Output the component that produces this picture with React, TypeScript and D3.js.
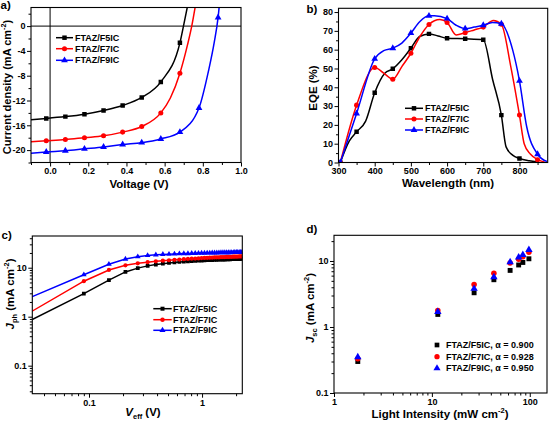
import * as d3 from "d3";
import { useEffect, useRef } from "react";

const FONT = "'Liberation Sans', Arial, sans-serif";
const COLORS = ["#000000", "#ff0000", "#0000ff"];
const SERIES = ["FTAZ/F5IC", "FTAZ/F7IC", "FTAZ/F9IC"];
const ALPHAS = ["0.900", "0.928", "0.950"];

// a) J-V curves, markers every 0.1 V
const jvVoltage = [-0.02, 0.08, 0.18, 0.28, 0.38, 0.48, 0.58, 0.68, 0.78, 0.88];
const jvF5 = [-14.9, -14.6, -14.2, -13.6, -12.8, -11.5, -9.0, -2.7];
const jvF7 = [-18.5, -18.3, -18.0, -17.7, -17.1, -16.2, -14.0, -7.6];
const jvF9 = [-20.3, -20.1, -19.8, -19.5, -19.1, -18.8, -18.2, -17.1, -13.2, 1.4];
// unmarked parts of the curves (left edge and the steep rise)
const jvF5Extra = [[-0.1, -15.1], [0.70, 0.2], [0.725, 4]];
const jvF7Extra = [[-0.1, -18.65], [0.63, -11.6], [0.72, -3], [0.742, 0], [0.765, 4]];
const jvF9Extra = [[-0.1, -20.5], [0.83, -7.2], [0.86, -2.6], [0.89, 4.5]];

// b) EQE spectra
const eqeWavelength = [305, 350, 400, 450, 500, 550, 600, 650, 700, 750, 800, 850];
const eqeF5 = [0, 16.3, 37.1, 49.8, 60.8, 68.4, 66.1, 65.8, 65.3, 25.2, 2.1];
const eqeF7 = [0, 30.5, 50.5, 44.3, 58.1, 73.4, 74.5, 69.0, 72.0, 73.5, 25.2, 1.5];
const eqeF9 = [0, 26.1, 55.1, 60.8, 68.8, 78.0, 76.5, 71.2, 73.0, 73.8, 43.4, 4.4];
const eqeF5Extra = [[330, 11.5], [375, 22], [428, 47.5], [475, 54.6], [524, 67], [575, 67.3], [726, 44], [763, 8.3], [781, 3.9], [827, 0.9], [850, 0.3]];
const eqeF7Extra = [[425, 47.5], [475, 51], [525, 67], [580, 76], [625, 67.8], [675, 70.5], [728, 75.5], [776, 51], [813, 10], [830, 4.5], [870, 0.2]];
const eqeF9Extra = [[425, 59.5], [475, 63.5], [525, 75], [565, 78], [625, 73], [675, 72], [725, 74.5], [781, 60], [820, 19], [876, 0.5]];

// c) Jph vs Veff
const veff = [0.03, 0.09, 0.15, 0.21, 0.27, 0.33, 0.39, 0.45, 0.51, 0.57, 0.63, 0.69, 0.75, 0.81, 0.87, 0.93, 0.99, 1.05, 1.11, 1.17,
  1.23, 1.29, 1.35, 1.41, 1.47, 1.53, 1.59, 1.65, 1.71, 1.77, 1.83, 1.89, 1.95, 2.01, 2.07, 2.13, 2.19, 2.25];
const jphF5 = [0.83, 2.95, 5.6, 8.2, 9.8, 10.9, 11.6, 12.1, 12.5, 12.8, 13.1, 13.3, 13.5, 13.6, 13.8, 13.9, 14.0, 14.1, 14.2, 14.3,
  14.35, 14.4, 14.5, 14.55, 14.6, 14.65, 14.7, 14.75, 14.8, 14.85, 14.9, 14.9, 14.95, 15.0, 15.0, 15.05, 15.1, 15.1];
const jphF7 = [1.22, 5.3, 9.0, 11.2, 12.3, 13.0, 13.5, 13.9, 14.2, 14.5, 14.7, 14.9, 15.1, 15.3, 15.4, 15.5, 15.7, 15.8, 15.9, 16.0,
  16.1, 16.2, 16.3, 16.3, 16.4, 16.5, 16.5, 16.6, 16.6, 16.7, 16.7, 16.8, 16.8, 16.9, 16.9, 17.0, 17.0, 17.0];
const jphF9 = [2.45, 7.2, 11.8, 15.0, 16.8, 17.8, 18.3, 18.7, 18.9, 19.1, 19.3, 19.4, 19.5, 19.6, 19.7, 19.8, 19.9, 19.95, 20.0, 20.05,
  20.1, 20.15, 20.2, 20.25, 20.3, 20.3, 20.35, 20.4, 20.4, 20.45, 20.5, 20.5, 20.55, 20.6, 20.6, 20.65, 20.7, 20.7];

// d) Jsc vs light intensity
const intensity = [1.75, 11.5, 27, 43, 63, 77, 85, 98];
const jscF5 = [0.30, 1.55, 3.3, 5.2, 7.2, 8.7, 9.5, 10.8];
const jscF7 = [0.33, 1.78, 4.4, 6.5, 9.3, 10.6, 11.6, 13.6];
const jscF9 = [0.35, 1.70, 3.8, 5.7, 9.6, 11.4, 12.4, 14.8];

const SYMBOLS = [d3.symbolSquare, d3.symbolCircle, d3.symbolTriangle];

const Chart = () => {
  const ref = useRef(null);

  useEffect(() => {
    const svg = d3.select(ref.current);
    svg.selectAll("*").remove();

    const zip = (xs, ys) => ys.map((v, i) => [xs[i], v]).filter((d) => d[1] != null);
    const merge = (a, b) => [...a, ...b].sort((p, q) => p[0] - q[0]);

    const axes = (x, y, o) => {
      const [x0, x1] = x.range();
      const [y0, y1] = y.range();
      const g = svg.append("g");
      const style = (sel) => {
        sel.select(".domain").remove();
        sel.selectAll("line").attr("stroke", "#000").attr("stroke-width", 1);
        sel.selectAll("text").attr("font-family", FONT).attr("font-weight", "bold").attr("font-size", 9).attr("fill", "#000");
      };
      g.append("g").attr("transform", `translate(0,${y0})`)
        .call(d3.axisBottom(x).tickValues(o.xMinor).tickSize(2.5).tickFormat(() => "")).call(style);
      g.append("g").attr("transform", `translate(0,${y0})`)
        .call(d3.axisBottom(x).tickValues(o.xMajor).tickSize(4).tickPadding(1.5).tickFormat(o.xFmt)).call(style);
      g.append("g").attr("transform", `translate(${x0},0)`)
        .call(d3.axisLeft(y).tickValues(o.yMinor).tickSize(2.5).tickFormat(() => "")).call(style);
      g.append("g").attr("transform", `translate(${x0},0)`)
        .call(d3.axisLeft(y).tickValues(o.yMajor).tickSize(4).tickPadding(1.5).tickFormat(o.yFmt)).call(style);
      g.append("rect").attr("x", x0).attr("y", y1).attr("width", x1 - x0).attr("height", y0 - y1)
        .attr("fill", "none").attr("stroke", "#000").attr("stroke-width", 1.1);
    };

    const clip = (id, x, y) => {
      const [x0, x1] = x.range();
      const [y0, y1] = y.range();
      svg.append("clipPath").attr("id", id).append("rect")
        .attr("x", x0).attr("y", y1).attr("width", x1 - x0).attr("height", y0 - y1);
      return svg.append("g").attr("clip-path", `url(#${id})`);
    };

    const title = (x, y, rot, parts, size = 11.5) => {
      const t = svg.append("text").attr("transform", `translate(${x},${y}) rotate(${rot})`)
        .attr("text-anchor", "middle").attr("font-family", FONT).attr("font-weight", "bold")
        .attr("font-size", size).attr("fill", "#000");
      let shift = 0;
      parts.forEach((p) => {
        const target = p.sup ? -size * 0.4 : p.sub ? size * 0.3 : 0;
        const ts = t.append("tspan").attr("dy", target - shift).text(p.t);
        if (p.sup || p.sub) ts.attr("font-size", size * 0.65);
        if (p.italic) ts.attr("font-style", "italic");
        shift = target;
      });
    };

    const label = (x, y, s) =>
      svg.append("text").attr("x", x).attr("y", y).attr("font-family", FONT).attr("font-weight", "bold")
        .attr("font-size", 11.5).text(s);

    const marks = (g, pts, x, y, i, size) =>
      g.selectAll(null).data(pts).join("path")
        .attr("transform", (d) => `translate(${x(d[0])},${y(d[1])})`)
        .attr("d", d3.symbol(SYMBOLS[i], size)).attr("fill", COLORS[i]);

    const legend = (lx0, lx1, tx, ys, size, labels, withLine = true) => {
      ys.forEach((yy, i) => {
        if (withLine) {
          svg.append("line").attr("x1", lx0).attr("x2", lx1).attr("y1", yy).attr("y2", yy)
            .attr("stroke", COLORS[i]).attr("stroke-width", 1.5);
        }
        svg.append("path").attr("transform", `translate(${(lx0 + lx1) / 2},${yy})`)
          .attr("d", d3.symbol(SYMBOLS[i], size)).attr("fill", COLORS[i]);
        svg.append("text").attr("x", tx).attr("y", yy).attr("dy", "0.35em").attr("font-family", FONT)
          .attr("font-weight", "bold").attr("font-size", 9).text(labels[i]);
      });
    };

    // ---------- a) ----------
    {
      const x = d3.scaleLinear().domain([-0.1, 1.0]).range([31, 241]);
      const y = d3.scaleLinear().domain([-22, 3]).range([162.5, 7.5]);
      const g = clip("clipA", x, y);
      g.append("line").attr("x1", x(0)).attr("x2", x(0)).attr("y1", y(3)).attr("y2", y(-22)).attr("stroke", "#000");
      g.append("line").attr("x1", x(-0.1)).attr("x2", x(1)).attr("y1", y(0)).attr("y2", y(0)).attr("stroke", "#000");
      const line = d3.line().x((d) => x(d[0])).y((d) => y(d[1])).curve(d3.curveMonotoneX);
      [[jvF5, jvF5Extra], [jvF7, jvF7Extra], [jvF9, jvF9Extra]].forEach(([vals, extra], i) => {
        const pts = zip(jvVoltage, vals);
        g.append("path").attr("d", line(merge(pts, extra))).attr("fill", "none")
          .attr("stroke", COLORS[i]).attr("stroke-width", 1.5);
        marks(g, pts, x, y, i, 20);
      });
      axes(x, y, {
        xMajor: [0, 0.2, 0.4, 0.6, 0.8, 1.0], xMinor: [-0.1, 0.1, 0.3, 0.5, 0.7, 0.9], xFmt: d3.format(".1f"),
        yMajor: [0, -4, -8, -12, -16, -20], yMinor: [2, -2, -6, -10, -14, -18, -22], yFmt: (d) => String(d),
      });
      legend(56, 73, 75, [37.7, 48.7, 60.3], 20, SERIES);
      title(10.5, 87, -90, [{ t: "Current density (mA cm" }, { t: "-2", sup: true }, { t: ")" }], 11);
      title(139, 188, 0, [{ t: "Voltage (V)" }]);
      label(0.5, 9, "a)");
    }

    // ---------- b) ----------
    {
      const x = d3.scaleLinear().domain([300, 878]).range([338.5, 547.7]);
      const y = d3.scaleLinear().domain([0, 82]).range([162.5, 8.3]);
      const g = clip("clipB", x, y);
      const line = d3.line().x((d) => x(d[0])).y((d) => y(d[1])).curve(d3.curveMonotoneX);
      [[eqeF5, eqeF5Extra], [eqeF7, eqeF7Extra], [eqeF9, eqeF9Extra]].forEach(([vals, extra], i) => {
        const pts = zip(eqeWavelength, vals);
        g.append("path").attr("d", line(merge(pts, extra))).attr("fill", "none")
          .attr("stroke", COLORS[i]).attr("stroke-width", 1.5);
        marks(g, pts, x, y, i, 20);
      });
      axes(x, y, {
        xMajor: [300, 400, 500, 600, 700, 800], xMinor: [350, 450, 550, 650, 750, 850], xFmt: (d) => String(d),
        yMajor: [0, 10, 20, 30, 40, 50, 60, 70, 80], yMinor: [5, 15, 25, 35, 45, 55, 65, 75], yFmt: (d) => String(d),
      });
      legend(405, 423, 425, [108.3, 119, 130], 20, SERIES);
      title(317, 88, -90, [{ t: "EQE (%)" }]);
      title(448, 187, 0, [{ t: "Wavelength (nm)" }]);
      label(306.5, 13, "b)");
    }

    // ---------- c) ----------
    {
      const x = d3.scaleLog().domain([0.0315, 2.27]).range([32.3, 242.3]);
      const y = d3.scaleLog().domain([0.0268, 44.4]).range([393.7, 236]);
      const g = clip("clipC", x, y);
      const line = d3.line().x((d) => x(d[0])).y((d) => y(d[1]));
      [jphF5, jphF7, jphF9].forEach((vals, i) => {
        const pts = zip(veff, vals);
        g.append("path").attr("d", line(pts)).attr("fill", "none")
          .attr("stroke", COLORS[i]).attr("stroke-width", 1.5);
        marks(g, pts, x, y, i, 14);
      });
      axes(x, y, {
        xMajor: [0.1, 1], xMinor: [0.04, 0.05, 0.06, 0.07, 0.08, 0.09, 0.2, 0.3, 0.4, 0.5, 0.6, 0.7, 0.8, 0.9, 2],
        xFmt: (d) => String(d),
        yMajor: [0.1, 1, 10],
        yMinor: [0.03, 0.04, 0.05, 0.06, 0.07, 0.08, 0.09, 0.2, 0.3, 0.4, 0.5, 0.6, 0.7, 0.8, 0.9, 2, 3, 4, 5, 6, 7, 8, 9, 20, 30, 40],
        yFmt: (d) => String(d),
      });
      legend(153.3, 171.7, 173, [308.7, 319.7, 330.3], 16, SERIES);
      title(14, 294, -90, [{ t: "J", italic: true }, { t: "ph", sub: true }, { t: " (mA cm" }, { t: "-2", sup: true }, { t: ")" }]);
      title(143, 416, 0, [{ t: "V", italic: true }, { t: "eff", sub: true }, { t: " (V)" }]);
      label(1.5, 238.5, "c)");
    }

    // ---------- d) ----------
    {
      const x = d3.scaleLog().domain([1, 150]).range([334, 547]);
      const y = d3.scaleLog().domain([0.1, 24.5]).range([393, 235.3]);
      const g = clip("clipD", x, y);
      [jscF5, jscF7, jscF9].forEach((vals, i) => {
        marks(g, zip(intensity, vals), x, y, i, 24);
      });
      axes(x, y, {
        xMajor: [1, 10, 100], xMinor: [2, 3, 4, 5, 6, 7, 8, 9, 20, 30, 40, 50, 60, 70, 80, 90],
        xFmt: (d) => String(d),
        yMajor: [0.1, 1, 10], yMinor: [0.2, 0.3, 0.4, 0.5, 0.6, 0.7, 0.8, 0.9, 2, 3, 4, 5, 6, 7, 8, 9, 20],
        yFmt: (d) => String(d),
      });
      legend(435, 439, 446, [345, 356.7, 368.3], 22,
        SERIES.map((s, i) => `${s}, \u03b1 = ${ALPHAS[i]}`), false);
      title(314, 308, -90, [{ t: "J", italic: true }, { t: "sc", sub: true }, { t: " (mA cm" }, { t: "-2", sup: true }, { t: ")" }]);
      title(440, 418, 0, [{ t: "Light Intensity (mW cm" }, { t: "-2", sup: true }, { t: ")" }]);
      label(306.5, 232.5, "d)");
    }
  }, []);

  return (
    <svg ref={ref} width={549} height={424}
      style={{ position: "absolute", left: 0, top: 0, background: "#fff" }} />
  );
};

export default function App() {
  return <Chart />;
}
